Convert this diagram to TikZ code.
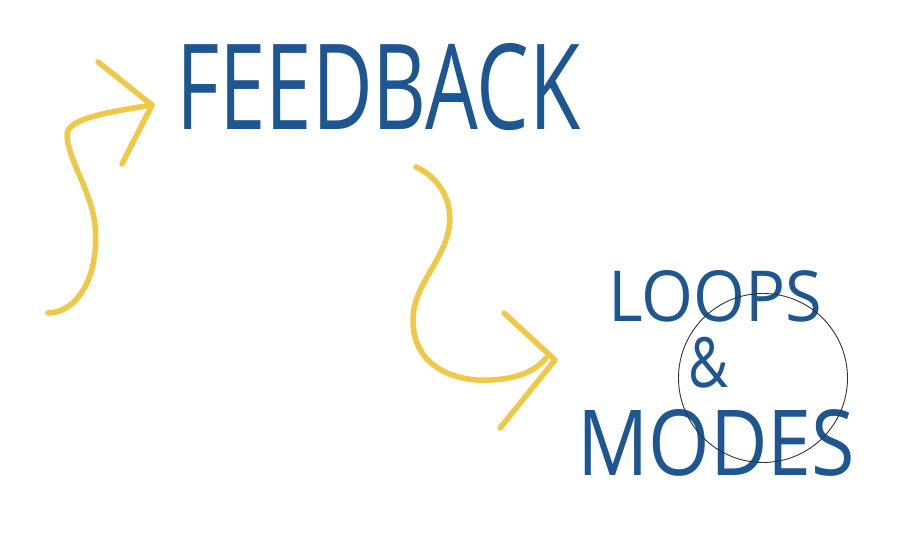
\documentclass[tikz,border=0pt]{standalone}
\usepackage{fontspec}
\setmainfont{Open Sans}
\definecolor{inkblue}{RGB}{30,86,146}
\definecolor{inkyellow}{RGB}{240,200,72}
\begin{document}
\begin{tikzpicture}[x=1pt,y=-1pt,
  word/.style={inner sep=0pt, text=inkblue, anchor=north west},
  stroke/.style={draw=inkyellow, line width=5.5pt, line cap=round, line join=round},
  ring/.style={draw=black!80, line width=0.9pt}]
\useasboundingbox[fill=white] (0,0) rectangle (914,537);
% texts
\node[word] (feedback) at (176,43) {\resizebox{404pt}{86pt}{FEEDBACK}};
\node[word] (loops) at (608,270) {\resizebox{214pt}{51pt}{LOOPS}};
\node[word] (amp) at (688,337) {\resizebox*{40pt}{51pt}{\&}};
\node[word] (modes) at (577,409) {\resizebox{278pt}{66pt}{MODES}};
% circle
\node[ring, circle, minimum size=169pt, inner sep=0pt] (ring) at (763,378) {};
% arrow 1
\coordinate (a1s) at (48,313);
\coordinate (a1t) at (152,105);
\coordinate (a1u) at (98,62);
\coordinate (a1l) at (122,164);
\draw[stroke] (a1s) .. controls (75,313) and (100,280) .. (95,225)
  .. controls (91,190) and (68,160) .. (67,135)
  .. controls (67,118) and (110,112) .. (a1t);
\draw[stroke] (a1u) -- (a1t) -- (a1l);
% arrow 2
\coordinate (a2s) at (416,167);
\coordinate (a2t) at (555,360);
\coordinate (a2u) at (504,313);
\coordinate (a2l) at (500,428);
\draw[stroke] (a2s) .. controls (440,178) and (458,205) .. (446,240)
  .. controls (435,270) and (413,290) .. (413,320)
  .. controls (413,370) and (460,382) .. (490,380)
  .. controls (515,379) and (535,372) .. (546,358);
\draw[stroke] (a2u) -- (a2t) -- (a2l);
\end{tikzpicture}
\end{document}
